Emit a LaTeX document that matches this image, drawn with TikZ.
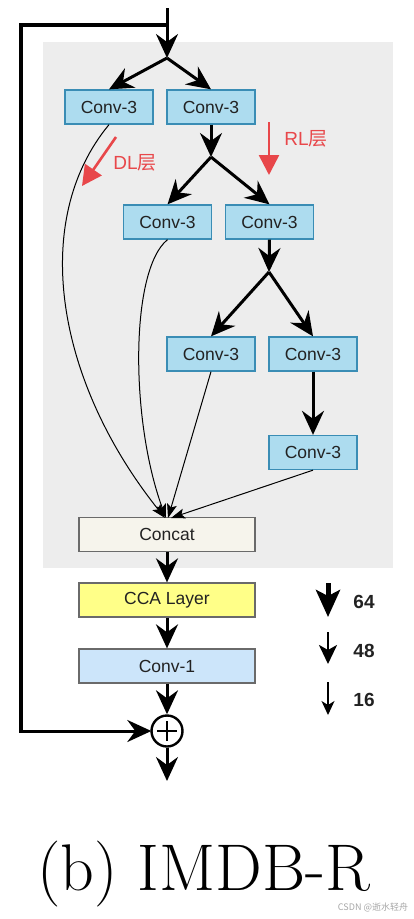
\documentclass[tikz,border=0pt]{standalone}
\usepackage{fontspec}
\setsansfont{Liberation Sans}
\newfontfamily\cjk{Noto Sans CJK SC}
\usetikzlibrary{arrows.meta,calc}
\definecolor{bggray}{HTML}{EDEDED}
\definecolor{convfill}{HTML}{ADDCEF}
\definecolor{convdraw}{HTML}{3A8DB5}
\definecolor{onefill}{HTML}{CCE5FA}
\definecolor{catfill}{HTML}{F6F4EC}
\definecolor{ccafill}{HTML}{FFFF88}
\definecolor{boxdraw}{HTML}{6A6A6A}
\definecolor{annred}{HTML}{E8474A}
\definecolor{txt}{HTML}{222222}
\begin{document}
\begin{tikzpicture}[x=1pt,y=-1pt,
  box/.style={draw=boxdraw,line width=1.3pt,minimum height=34pt,inner sep=0pt,
    font=\sffamily\fontsize{17.5}{17.5}\selectfont,text=txt},
  conv/.style={box,fill=convfill,draw=convdraw,minimum width=88pt},
  wide/.style={box,minimum width=176pt},
  thick/.style={line width=3pt,-{Stealth[length=24pt,width=22pt,inset=8pt]}},
  plain/.style={line width=3.5pt},
  thin/.style={line width=1pt,-{Stealth[length=14pt,width=10pt,inset=3pt]}},
  red/.style={draw=annred,line width=2.6pt,-{Triangle[length=20pt,width=20pt]}},
  redtxt/.style={text=annred,font=\sffamily\fontsize{19}{19}\selectfont,inner sep=0pt},
  legtxt/.style={font=\sffamily\bfseries\fontsize{19}{19}\selectfont,inner sep=0pt,text=txt}]
\useasboundingbox (0,0) rectangle (413,919);
\fill[bggray] (43,42) rectangle (393,568);

% boxes
\node[conv] (c1l) at (109,107) {Conv-3};
\node[conv] (c1r) at (211,107) {Conv-3};
\node[conv] (c2l) at (167.5,222) {Conv-3};
\node[conv] (c2r) at (269.5,222) {Conv-3};
\node[conv] (c3l) at (211,354) {Conv-3};
\node[conv] (c3r) at (313,354) {Conv-3};
\node[conv] (c4) at (313,452.5) {Conv-3};
\node[wide,fill=catfill] (cat) at (167,534.5) {Concat};
\node[wide,fill=ccafill] (cca) at (167,600) {CCA Layer};
\node[wide,fill=onefill] (c1) at (167,666) {Conv-1};
\node[draw=black,line width=2.4pt,circle,minimum size=31pt,inner sep=0pt] (plus) at (167,731) {};
\draw[line width=2.2pt] ($(plus.center)+(-10,0)$) -- ($(plus.center)+(10,0)$);
\draw[line width=2.2pt] ($(plus.center)+(0,-10)$) -- ($(plus.center)+(0,10)$);

% coordinates
\coordinate (top) at (167,8);
\coordinate (loop) at (167,25);
\coordinate (lt) at (21,25);
\coordinate (lb) at (21,731);
\coordinate (b0) at (167,58);
\coordinate (b1) at (211,157);
\coordinate (b2) at (269,272);
\coordinate (out) at (167,781);

% main path
\draw[plain] (lt) -- (loop);
\draw[thick] (top) -- (b0);
\draw[plain,line cap=rect] (lt) -- (lb);
\draw[thick,shorten >=-1pt] (lb) -- (plus.west);
\draw[thick] (b0) -- (c1l.north);
\draw[thick] (b0) -- (c1r.north);
\draw[thick] (c1r.south) -- (b1);
\draw[thick] (b1) -- (c2l.north);
\draw[thick] (b1) -- (c2r.north);
\draw[thick] (c2r.south) -- (b2);
\draw[thick] (b2) -- (c3l.north);
\draw[thick] (b2) -- (c3r.north);
\draw[thick] (c3r.south) -- (c4.north);
\draw[thick] (cat.south) -- (cca.north);
\draw[thick] (cca.south) -- (c1.north);
\draw[thick] (c1.south) -- (plus.north);
\draw[thick] (plus.south) -- (out);

% thin connectors to concat
\coordinate (ct) at (167,518);
\draw[thin] (c1l.south) .. controls (30,220) and (55,380) .. ($(ct)+(-2,0)$);
\draw[thin] (c2l.south) .. controls (130,270) and (130,420) .. ($(ct)+(-1,0)$);
\draw[thin] (c3l.south) -- ($(ct)+(1,0)$);
\draw[thin] (c4.south) -- ($(ct)+(4,0)$);

% red annotations
\coordinate (dls) at (116,137);
\coordinate (dle) at (82,186);
\draw[red] (dls) -- (dle);
\node[redtxt] (dl) at (135,163) {DL{\cjk 层}};
\coordinate (rls) at (269,122);
\coordinate (rle) at (269,175);
\draw[red] (rls) -- (rle);
\node[redtxt] (rl) at (306,139) {RL{\cjk 层}};

% legend
\coordinate (a1s) at (328,583);
\coordinate (a1e) at (328,617);
\draw[line width=5pt,-{Stealth[length=27pt,width=24pt,inset=6pt]}] (a1s) -- (a1e);
\node[legtxt] (n64) at (364,602) {64};
\coordinate (a2s) at (328,632);
\coordinate (a2e) at (328,664);
\draw[line width=2.6pt,-{Stealth[length=19pt,width=18pt,inset=5pt]}] (a2s) -- (a2e);
\node[legtxt] (n48) at (364,651) {48};
\coordinate (a3s) at (328,682);
\coordinate (a3e) at (328,715);
\draw[line width=1.3pt,-{Stealth[length=14pt,width=13pt,inset=4pt]}] (a3s) -- (a3e);
\node[legtxt] (n16) at (364,700) {16};

% caption
\node[font=\fontsize{66}{66}\selectfont,inner sep=0pt] (cap) at (204,874) {(b) IMDB-R};
\node[font=\cjk\fontsize{9}{9}\selectfont,text=gray!70,inner sep=0pt] (wm) at (373,907) {CSDN @逝水轻舟};
\end{tikzpicture}
\end{document}
